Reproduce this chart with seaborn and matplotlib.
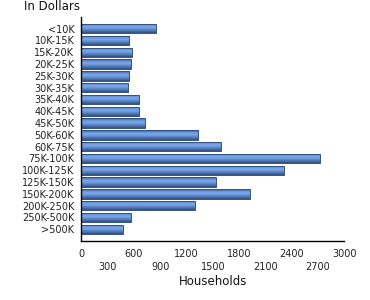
import numpy as np
import pandas as pd
import matplotlib
matplotlib.use("Agg")
import matplotlib.pyplot as plt
import seaborn as sns
from matplotlib.colors import LinearSegmentedColormap

categories = ["<10K", "10K-15K", "15K-20K", "20K-25K", "25K-30K", "30K-35K",
              "35K-40K", "40K-45K", "45K-50K", "50K-60K", "60K-75K", "75K-100K",
              "100K-125K", "125K-150K", "150K-200K", "200K-250K", "250K-500K", ">500K"]
households = [849, 541, 575, 563, 541, 529, 655, 655, 723, 1328, 1590, 2719,
              2309, 1533, 1921, 1293, 563, 472]
xticks = [0, 300, 600, 900, 1200, 1500, 1800, 2100, 2400, 2700, 3000]

df = pd.DataFrame({"Income": categories, "Households": households})

sns.set_style("white")
plt.rcParams["font.family"] = ["DejaVu Sans"]

fig = plt.figure(figsize=(3.7, 3.0), dpi=100)
ax = fig.add_axes([81.3 / 370, 1 - 240.7 / 300, 263 / 370, 223.7 / 300])

sns.barplot(data=df, x="Households", y="Income", orient="h", ax=ax,
            color="#5a86c8", width=0.8, edgecolor="#34527e", linewidth=0.7,
            saturation=1)

cmap = LinearSegmentedColormap.from_list(
    "bar", [(0.0, "#3a5784"), (0.25, "#6c9ae0"), (0.45, "#7aa8ee"),
            (0.75, "#5279b6"), (1.0, "#34507c")])
grad = np.linspace(0, 1, 64).reshape(-1, 1)
for p in ax.patches:
    x0, y0 = p.get_x(), p.get_y()
    w, h = p.get_width(), p.get_height()
    im = ax.imshow(grad, cmap=cmap, aspect="auto",
                   extent=(x0, x0 + w, y0 + h, y0), zorder=p.get_zorder() + 0.1,
                   interpolation="bilinear")
    im.set_clip_path(p)
    p.set_facecolor("none")
    p.set_zorder(p.get_zorder() + 0.2)

ax.set_xlim(0, 3000)
ax.set_ylim(len(categories) - 0.03, -0.99)
ax.set_xticks(xticks)
ax.set_xticklabels([str(v) if i % 2 == 0 else "\n" + str(v) for i, v in enumerate(xticks)],
                   fontsize=7, color="#222222", linespacing=1.35)
ax.set_yticks(range(len(categories)))
ax.set_yticklabels(categories, fontsize=7, color="#222222")
ax.set_yticks([len(categories) - 0.03, -0.99], minor=True)
ax.tick_params(axis="y", which="both", direction="out", length=3, width=1, color="black", pad=2)
ax.tick_params(axis="x", which="major", direction="out", length=3, width=1, color="black", pad=3)

for s in ["top", "right"]:
    ax.spines[s].set_visible(False)
for s in ["left", "bottom"]:
    ax.spines[s].set_color("black")
    ax.spines[s].set_linewidth(1)

ax.set_ylabel("")
ax.set_xlabel("Households", fontsize=8.5, color="#111111", labelpad=2)
fig.text(24 / 370, 1 - 6 / 300, "In Dollars", fontsize=8.5, color="#111111",
         ha="left", va="center")

fig.savefig("out.png", dpi=100)
